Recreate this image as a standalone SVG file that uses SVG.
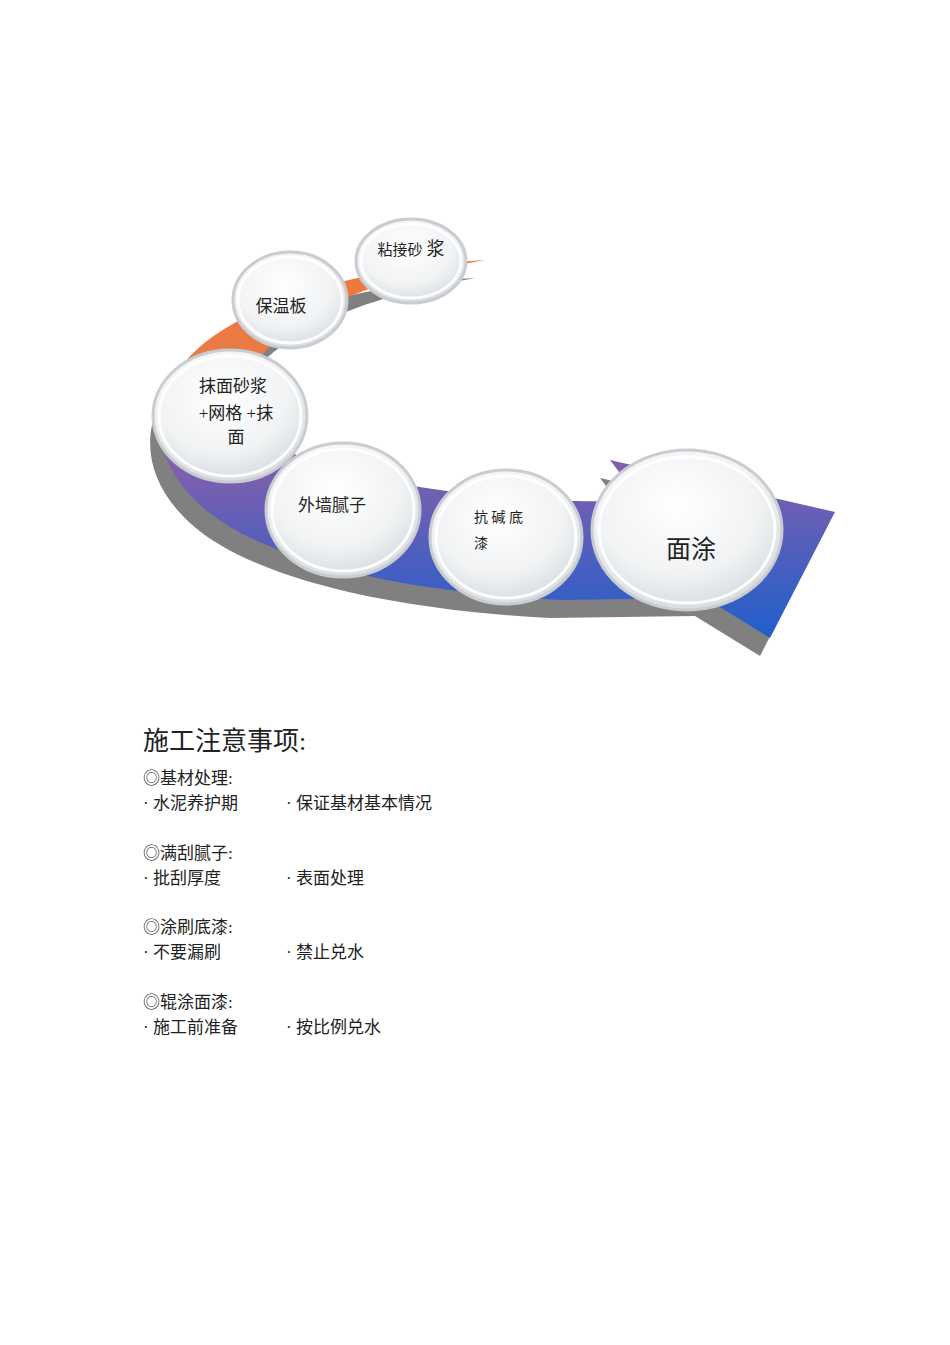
<svg xmlns="http://www.w3.org/2000/svg" width="950" height="1345" viewBox="0 0 950 1345">
<defs>
<linearGradient id="band" x1="0" y1="260" x2="0" y2="640" gradientUnits="userSpaceOnUse">
<stop offset="0" stop-color="#f0773a"/><stop offset="0.27" stop-color="#e87a48"/><stop offset="0.33" stop-color="#a8649a"/><stop offset="0.55" stop-color="#7f5fae"/><stop offset="1" stop-color="#1f5fcc"/>
</linearGradient>
<radialGradient id="ball" cx="0.45" cy="0.35" r="0.7">
<stop offset="0" stop-color="#ffffff"/><stop offset="0.6" stop-color="#f1f3f4"/><stop offset="1" stop-color="#d4d8dc"/>
</radialGradient>
<path id="arrow" d="M485,260 C400,265 290,285 215,335 C150,380 140,450 200,505 C260,560 400,592 560,600 L705,598 L770,638 L835,512 L610,460 L640,500 C560,505 420,495 320,465 C250,440 230,395 262,355 C310,300 400,275 485,260 Z"/>
</defs>
<style>
.ring{fill:url(#ball);stroke:#c9cdd2;stroke-width:3}
.in{fill:none;stroke:#ffffff;stroke-width:3;opacity:.9}
.t{font-family:"Liberation Serif","Noto Sans CJK SC",serif;fill:#222}
</style>
<g id="connectors">
<use href="#arrow" fill="#808080" transform="translate(-10,18)"/>
<use href="#arrow" fill="url(#band)"/>
</g>
<g id="n1"><ellipse cx="411" cy="261" rx="55" ry="42" class="ring"/><ellipse cx="411" cy="261" rx="50" ry="37" class="in"/><text x="411" y="255" class="t" font-size="15" text-anchor="middle">粘接砂 <tspan font-size="18">浆</tspan></text></g>
<g id="n2"><ellipse cx="290" cy="300" rx="57" ry="48" class="ring"/><ellipse cx="290" cy="300" rx="52" ry="43" class="in"/><text x="281" y="312" class="t" font-size="17" text-anchor="middle">保温板</text></g>
<g id="n3"><ellipse cx="230" cy="416" rx="77" ry="66" class="ring"/><ellipse cx="230" cy="416" rx="71" ry="60" class="in"/><text class="t" font-size="17" text-anchor="middle"><tspan x="233" y="392">抹面砂浆</tspan><tspan x="236" y="419">+网格 +抹</tspan><tspan x="236" y="443">面</tspan></text></g>
<g id="n4"><ellipse cx="343" cy="510" rx="77" ry="67" class="ring"/><ellipse cx="343" cy="510" rx="71" ry="61" class="in"/><text x="332" y="511" class="t" font-size="17" text-anchor="middle">外墙腻子</text></g>
<g id="n5"><ellipse cx="506" cy="537" rx="76" ry="67" class="ring"/><ellipse cx="506" cy="537" rx="70" ry="61" class="in"/><text class="t" font-size="14"><tspan x="474" y="522">抗  碱  底</tspan><tspan x="474" y="548">漆</tspan></text></g>
<g id="n6"><ellipse cx="687" cy="530" rx="95" ry="80" class="ring"/><ellipse cx="687" cy="530" rx="88" ry="73" class="in"/><text x="691" y="558" class="t" font-size="25" text-anchor="middle">面涂</text></g>
<g id="notes" class="t" font-size="17">
<text x="143" y="750" font-size="26">施工注意事项:</text>
<text x="143" y="784">◎基材处理:</text>
<text x="143" y="809">·  水泥养护期</text><text x="286" y="809">·  保证基材基本情况</text>
<text x="143" y="859">◎满刮腻子:</text>
<text x="143" y="884">·  批刮厚度</text><text x="286" y="884">·  表面处理</text>
<text x="143" y="933">◎涂刷底漆:</text>
<text x="143" y="958">·  不要漏刷</text><text x="286" y="958">·  禁止兑水</text>
<text x="143" y="1008">◎辊涂面漆:</text>
<text x="143" y="1033">·  施工前准备</text><text x="286" y="1033">·  按比例兑水</text>
</g>
</svg>
